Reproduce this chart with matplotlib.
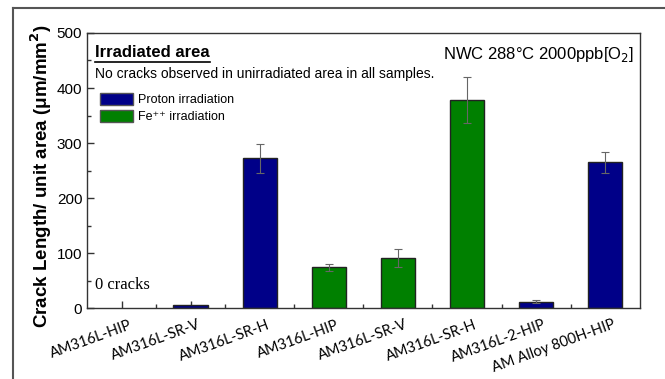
import numpy as np
import matplotlib
matplotlib.use('Agg')
import matplotlib.pyplot as plt
import matplotlib.transforms as mtransforms
from matplotlib.patches import Patch
from matplotlib.lines import Line2D

samples = ['AM316L-HIP', 'AM316L-SR-V', 'AM316L-SR-H', 'AM316L-HIP',
           'AM316L-SR-V', 'AM316L-SR-H', 'AM316L-2-HIP', 'AM Alloy 800H-HIP']
irradiation = ['proton', 'proton', 'proton', 'fe', 'fe', 'fe', 'proton', 'proton']
crack_length = [0, 6, 272, 74, 91, 378, 12, 265]
crack_err = [0, 0, 27, 7, 16, 42, 2, 19]

colors = {'proton': '#000088', 'fe': '#008000'}

plt.rcParams['font.family'] = ['Liberation Sans', 'DejaVu Sans']

fig = plt.figure(figsize=(6.65, 3.79), dpi=100)
ax = fig.add_axes([0.131, 0.187, 0.831, 0.726])

x = np.arange(len(samples))
for i in x:
    if crack_length[i] <= 0:
        continue
    ax.bar(i, crack_length[i], width=0.5, color=colors[irradiation[i]],
           edgecolor='#222222', linewidth=1.0, zorder=2)
    if crack_err[i] > 0:
        ax.errorbar(i, crack_length[i], yerr=crack_err[i], fmt='none',
                    ecolor='#666666', elinewidth=0.8, capsize=3, capthick=0.8, zorder=3)

ax.set_xlim(-0.5, len(samples) - 0.5)
ax.set_ylim(0, 500)
ax.set_yticks([0, 100, 200, 300, 400, 500])
ax.set_yticks([50, 150, 250, 350, 450], minor=True)
ax.set_xticks(x)
ax.set_xticks(x[:-1] + 0.5, minor=True)
ax.tick_params(axis='both', which='both', direction='in', color='#333333')
ax.tick_params(axis='both', which='major', length=5, width=1)
ax.tick_params(axis='both', which='minor', length=3, width=1)
ax.tick_params(axis='y', labelsize=11)
ax.tick_params(axis='x', pad=7)
ax.set_xticklabels(samples, rotation=20, ha='right', rotation_mode='anchor',
                   family=['Lato', 'DejaVu Sans'], fontsize=10.5)
for s in ax.spines.values():
    s.set_color('#333333')
    s.set_linewidth(1.0)

ax.set_ylabel('Crack Length/ unit area (\u03bcm/mm$^{\\mathbf{2}}$)',
              fontsize=13.5, fontweight='bold')
ax.yaxis.set_label_coords(-0.06, 0.48)

t = ax.text(0.0145, 0.955, 'Irradiated area', transform=ax.transAxes,
            fontsize=12, fontweight='bold', va='top', ha='left')
ax.text(0.0145, 0.875, 'No cracks observed in unirradiated area in all samples.',
        transform=ax.transAxes, fontsize=10, va='top', ha='left')
ax.text(0.99, 0.955, 'NWC 288\u00b0C 2000ppb[O$_2$]', transform=ax.transAxes,
        fontsize=12, va='top', ha='right')
ax.text(0.014, 0.055, '0 cracks', transform=ax.transAxes, fontsize=12,
        family=['Liberation Serif', 'DejaVu Serif'], va='bottom', ha='left')

handles = [Patch(facecolor=colors['proton'], edgecolor='#555555', label='Proton irradiation'),
           Patch(facecolor=colors['fe'], edgecolor='#555555', label='Fe\u207a\u207a irradiation')]
ax.legend(handles=handles, loc='upper left', bbox_to_anchor=(0.01, 0.81),
          frameon=False, fontsize=9, handlelength=2.6, handleheight=1.1,
          handletextpad=0.4, labelspacing=0.3, borderaxespad=0.2)

fig.canvas.draw()
# nudge the rotated tick labels a bit to the right, like the original
shift = mtransforms.ScaledTranslation(7 / 100, 0, fig.dpi_scale_trans)
for lab in ax.get_xticklabels():
    lab.set_transform(lab.get_transform() + shift)

# underline for the title text
bb = t.get_window_extent().transformed(fig.transFigure.inverted())
fig.add_artist(Line2D([bb.x0, bb.x1], [bb.y0 - 0.004, bb.y0 - 0.004],
                      color='black', linewidth=1.2, transform=fig.transFigure))

# outer frame lines (cropped figure border)
fig.add_artist(Line2D([0.0195, 1.0], [0.979, 0.979], color='#555555', linewidth=1.5,
                      transform=fig.transFigure))
fig.add_artist(Line2D([0.0195, 0.0195], [0.0, 0.979], color='#555555', linewidth=1.5,
                      transform=fig.transFigure))

fig.savefig('out.png', dpi=100)
